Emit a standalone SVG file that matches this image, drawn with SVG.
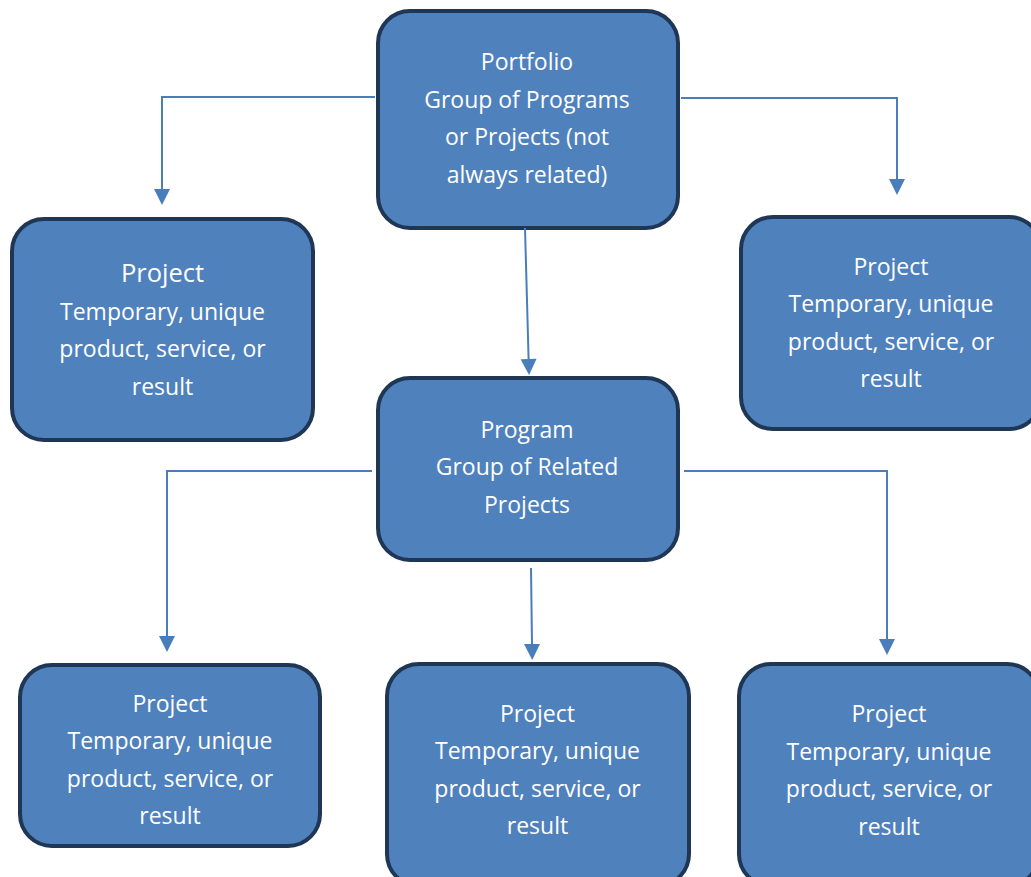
<svg xmlns="http://www.w3.org/2000/svg" width="1031" height="877" viewBox="0 0 1031 877">
<style>
.box{fill:#4f81bd;stroke:#1f3655;stroke-width:4}
.t{font-family:"Open Sans","Noto Sans","Liberation Sans",sans-serif;font-size:23px;fill:#ffffff;text-anchor:middle}
.big{font-size:25.5px}
.c{fill:none;stroke:#4a7ebb;stroke-width:2}
</style>
<defs>
<marker id="arr" markerUnits="userSpaceOnUse" markerWidth="16" markerHeight="16" refX="0" refY="8" orient="auto" overflow="visible">
<path d="M0,0 L16,8 L0,16 Z" fill="#4a7ebb"/>
</marker>
</defs>
<rect width="1031" height="877" fill="#ffffff"/>
<g id="portfolio">
<rect class="box" x="378" y="11" width="300" height="217" rx="32"/>
<text class="t" x="527" y="70">Portfolio</text>
<text class="t" x="527" y="107.5">Group of Programs</text>
<text class="t" x="527" y="145">or Projects (not</text>
<text class="t" x="527" y="182.5">always related)</text>
</g>
<g id="project-left">
<rect class="box" x="12" y="219" width="301" height="221" rx="32"/>
<text class="t big" x="162.5" y="282">Project</text>
<text class="t" x="162.5" y="320">Temporary, unique</text>
<text class="t" x="162.5" y="357">product, service, or</text>
<text class="t" x="162.5" y="395">result</text>
</g>
<g id="project-right">
<rect class="box" x="741" y="217" width="300" height="212" rx="32"/>
<text class="t" x="891" y="275">Project</text>
<text class="t" x="891" y="312">Temporary, unique</text>
<text class="t" x="891" y="350">product, service, or</text>
<text class="t" x="891" y="387">result</text>
</g>
<g id="program">
<rect class="box" x="378" y="378" width="300" height="182" rx="32"/>
<text class="t" x="527" y="438">Program</text>
<text class="t" x="527" y="475">Group of Related</text>
<text class="t" x="527" y="513">Projects</text>
</g>
<g id="project-bottom-left">
<rect class="box" x="20" y="665" width="300" height="181" rx="32"/>
<text class="t" x="170" y="712">Project</text>
<text class="t" x="170" y="749">Temporary, unique</text>
<text class="t" x="170" y="787">product, service, or</text>
<text class="t" x="170" y="824">result</text>
</g>
<g id="project-bottom-mid">
<rect class="box" x="387" y="664" width="302" height="222" rx="32"/>
<text class="t" x="537.5" y="722">Project</text>
<text class="t" x="537.5" y="759">Temporary, unique</text>
<text class="t" x="537.5" y="797">product, service, or</text>
<text class="t" x="537.5" y="834">result</text>
</g>
<g id="project-bottom-right">
<rect class="box" x="739" y="664" width="300" height="222" rx="32"/>
<text class="t" x="889" y="722">Project</text>
<text class="t" x="889" y="760">Temporary, unique</text>
<text class="t" x="889" y="797">product, service, or</text>
<text class="t" x="889" y="835">result</text>
</g>
<g id="connectors">
<path class="c" d="M375,97 H162 V189" marker-end="url(#arr)"/>
<path class="c" d="M681,98 H897 V179" marker-end="url(#arr)"/>
<path class="c" d="M525,228 L528.6,359" marker-end="url(#arr)"/>
<path class="c" d="M372,471 H167 V636" marker-end="url(#arr)"/>
<path class="c" d="M684,471 H887 V639" marker-end="url(#arr)"/>
<path class="c" d="M531,568 L532,644" marker-end="url(#arr)"/>
</g>
</svg>
